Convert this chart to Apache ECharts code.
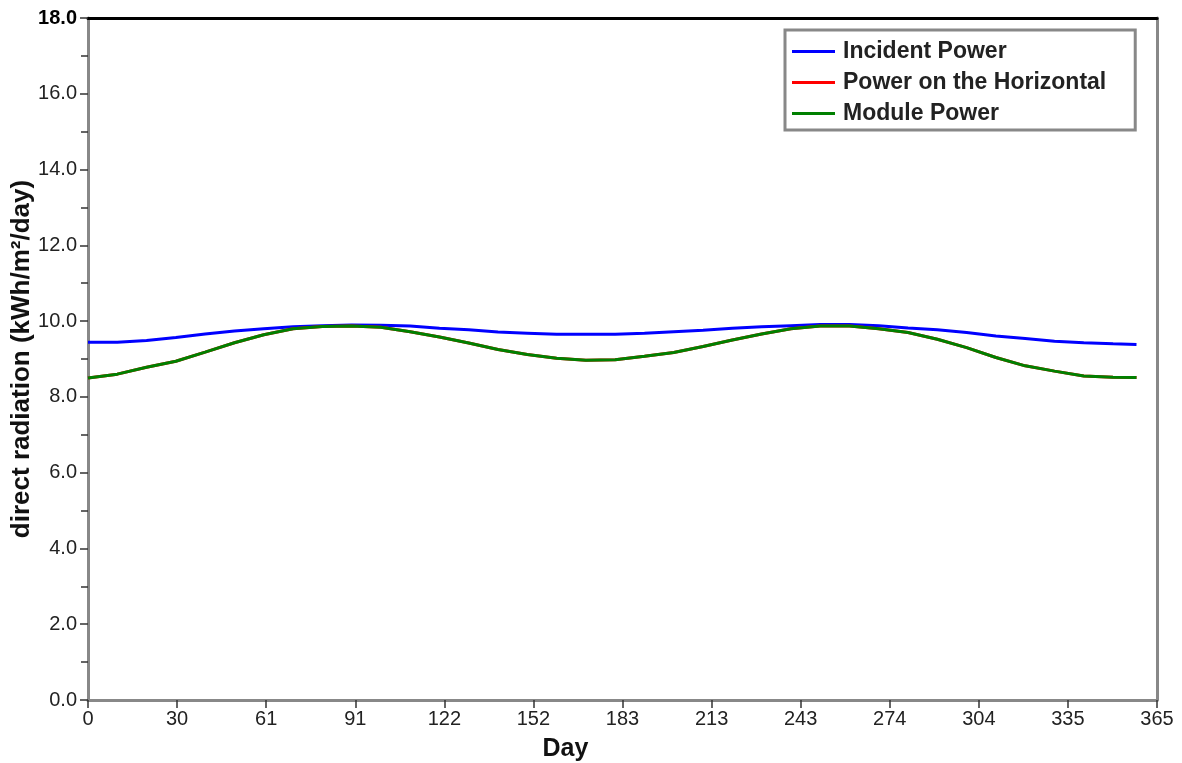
<!DOCTYPE html>
<html>
<head>
<meta charset="utf-8">
<script src="https://cdn.jsdelivr.net/npm/echarts@6/dist/echarts.min.js"></script>
<style>html,body{margin:0;padding:0;background:#fff}#c{width:1182px;height:763px}</style>
</head>
<body>
<div id="c"></div>
<script>
const days = [0,10,20,30,40,50,60,70,80,90,100,110,120,130,140,150,160,170,180,190,200,210,220,230,240,250,260,270,280,290,300,310,320,330,340,350,358];
const incidentPower = [9.44,9.44,9.49,9.57,9.66,9.74,9.80,9.85,9.88,9.90,9.89,9.87,9.81,9.77,9.71,9.68,9.65,9.65,9.65,9.68,9.72,9.76,9.81,9.85,9.88,9.91,9.91,9.88,9.82,9.77,9.70,9.61,9.54,9.47,9.43,9.40,9.38];
const horizontalPower = [8.50,8.60,8.78,8.94,9.18,9.43,9.64,9.80,9.86,9.87,9.84,9.72,9.58,9.42,9.25,9.12,9.02,8.97,8.98,9.07,9.17,9.33,9.50,9.66,9.80,9.87,9.87,9.80,9.70,9.52,9.30,9.04,8.82,8.68,8.55,8.52,8.51];
const modulePower = [8.50,8.60,8.78,8.94,9.18,9.43,9.64,9.80,9.86,9.87,9.84,9.72,9.58,9.42,9.25,9.12,9.02,8.97,8.98,9.07,9.17,9.33,9.50,9.66,9.80,9.87,9.87,9.80,9.70,9.52,9.30,9.04,8.82,8.68,8.55,8.52,8.51];
const seriesNames = ['Incident Power','Power on the Horizontal','Module Power'];
const xMax = 365, xInterval = 365/12;
const yMin = 0, yMax = 18, yInterval = 2;

const pairs = arr => days.map((d,i)=>[d,arr[i]]);
const font = '"Liberation Sans", Arial, Helvetica, sans-serif';
const chart = echarts.init(document.getElementById('c'));
chart.setOption({
  animation:false,
  backgroundColor:'#fff',
  grid:{left:88,right:25,top:18,bottom:63,containLabel:false,outerBoundsMode:'none'},
  legend:{
    orient:'vertical', left:785, top:30,
    padding:[10,29,5,7],
    borderColor:'#888', borderWidth:3, backgroundColor:'#fff',
    itemWidth:43, itemHeight:3, itemGap:8, icon:'rect',
    textStyle:{fontFamily:font,fontSize:23,fontWeight:'bold',color:'#222',lineHeight:22,padding:[0,0,0,3]},
    data:seriesNames
  },
  xAxis:[{
    type:'value', min:0, max:xMax, interval:xInterval,
    name:'Day', nameLocation:'middle', nameGap:37,
    nameTextStyle:{fontFamily:font,fontSize:25,fontWeight:'bold',color:'#111',padding:[0,114,0,0]},
    axisLine:{show:true,onZero:false,lineStyle:{color:'#888',width:3}},
    axisTick:{show:true,length:8,lineStyle:{color:'#333',width:1.5}},
    axisLabel:{fontFamily:font,fontSize:20,color:'#222',margin:9,formatter:v=>String(Math.round(v))},
    splitLine:{show:false}
  },{
    type:'value', position:'top', min:0, max:xMax,
    axisLine:{show:true,onZero:false,lineStyle:{color:'#000',width:3}},
    axisTick:{show:false}, axisLabel:{show:false}, splitLine:{show:false}
  }],
  yAxis:[{
    type:'value', min:yMin, max:yMax, interval:yInterval,
    name:'direct radiation (kWh/m²/day)', nameLocation:'middle', nameGap:53, nameMoveOverlap:false,
    nameTextStyle:{fontFamily:font,fontSize:26,fontWeight:'bold',color:'#111'},
    axisLine:{show:true,onZero:false,lineStyle:{color:'#888',width:3}},
    axisTick:{show:true,length:8,lineStyle:{color:'#333',width:1.5}},
    minorTick:{show:true,splitNumber:2,length:7,lineStyle:{color:'#333',width:1.5}},
    axisLabel:{fontFamily:font,fontSize:20,color:'#222',margin:11,
      formatter:v=> v===yMax ? '{b|'+v.toFixed(1)+'}' : v.toFixed(1),
      rich:{b:{fontFamily:font,fontSize:20,fontWeight:'bold',color:'#000'}}},
    splitLine:{show:false}
  },{
    type:'value', position:'right', min:yMin, max:yMax,
    axisLine:{show:true,onZero:false,lineStyle:{color:'#888',width:3}},
    axisTick:{show:false}, axisLabel:{show:false}, splitLine:{show:false}
  }],
  series:[
    {name:seriesNames[0],type:'line',symbol:'none',data:pairs(incidentPower),lineStyle:{color:'#0000ff',width:3},itemStyle:{color:'#0000ff'}},
    {name:seriesNames[1],type:'line',symbol:'none',data:pairs(horizontalPower),lineStyle:{color:'#ff0000',width:3},itemStyle:{color:'#ff0000'}},
    {name:seriesNames[2],type:'line',symbol:'none',data:pairs(modulePower),lineStyle:{color:'#008000',width:3},itemStyle:{color:'#008000'}}
  ]
});
</script>
</body>
</html>
